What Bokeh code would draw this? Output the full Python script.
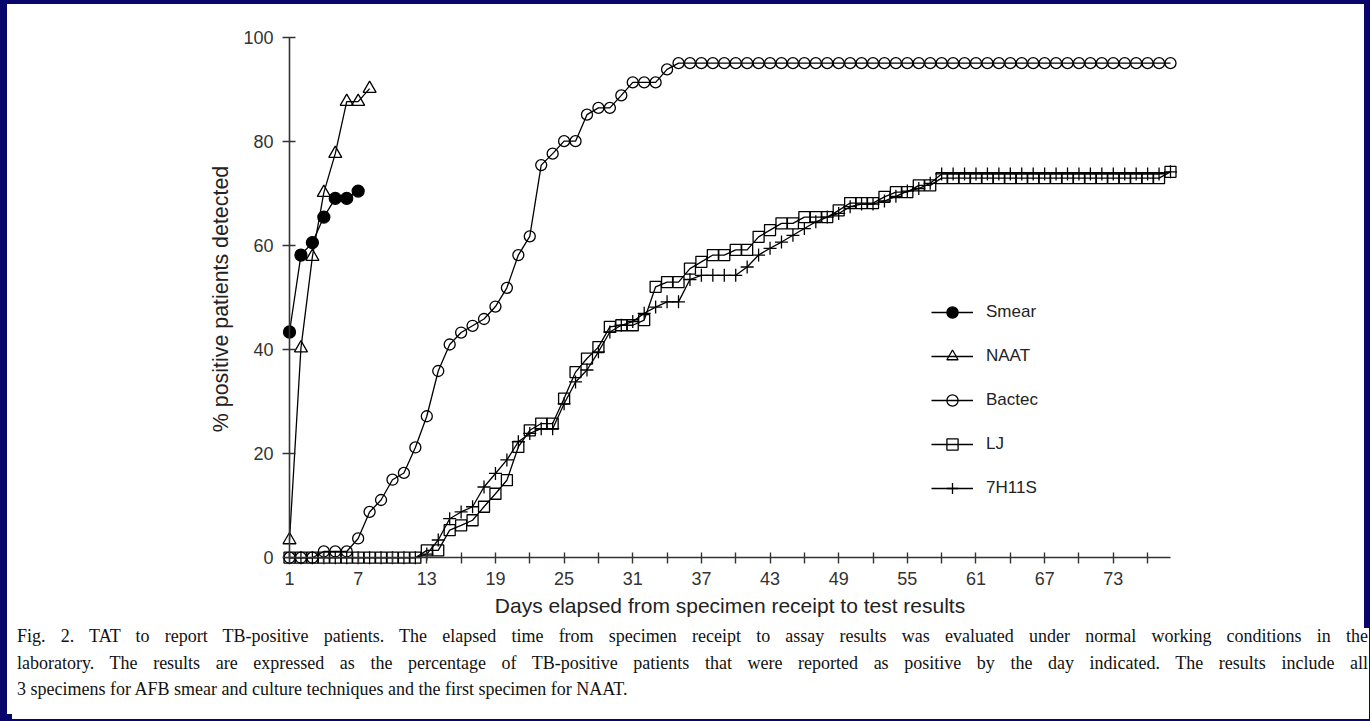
from bokeh.plotting import figure
from bokeh.models import (Range1d, FixedTicker, Legend, LegendItem, Div,
                          GlobalInlineStyleSheet, LinearAxis)
from bokeh.layouts import column
from bokeh.embed import file_html
from bokeh.resources import INLINE

# ---------------- data ----------------
smear_days = [1, 2, 3, 4, 5, 6, 7]
smear = [43.4, 58.2, 60.6, 65.5, 69.1, 69.1, 70.5]

naat_days = [1, 2, 3, 4, 5, 6, 7, 8]
naat = [3.4, 40.3, 57.9, 70.2, 77.7, 87.7, 87.7, 90.2]

culture_days = [1, 2, 3, 4, 5, 6, 7, 8, 9, 10,
                11, 12, 13, 14, 15, 16, 17, 18, 19, 20,
                21, 22, 23, 24, 25, 26, 27, 28, 29, 30,
                31, 32, 33, 34, 35, 36, 37, 38, 39, 40,
                41, 42, 43, 44, 45, 46, 47, 48, 49, 50,
                51, 52, 53, 54, 55, 56, 57, 58, 59, 60,
                61, 62, 63, 64, 65, 66, 67, 68, 69, 70,
                71, 72, 73, 74, 75, 76, 77, 78]

bactec = [0, 0, 0, 1.2, 1.2, 1.2, 3.7, 8.8, 11.1, 15.0,
          16.3, 21.2, 27.2, 35.9, 41.0, 43.3, 44.6, 45.9, 48.3, 51.9,
          58.2, 61.8, 75.5, 77.7, 80.1, 80.1, 85.2, 86.5, 86.5, 88.9,
          91.4, 91.4, 91.4, 93.9, 95.1, 95.1, 95.1, 95.1, 95.1, 95.1,
          95.1, 95.1, 95.1, 95.1, 95.1, 95.1, 95.1, 95.1, 95.1, 95.1,
          95.1, 95.1, 95.1, 95.1, 95.1, 95.1, 95.1, 95.1, 95.1, 95.1,
          95.1, 95.1, 95.1, 95.1, 95.1, 95.1, 95.1, 95.1, 95.1, 95.1,
          95.1, 95.1, 95.1, 95.1, 95.1, 95.1, 95.1, 95.1]

lj = [0, 0, 0, 0, 0, 0, 0, 0, 0, 0,
      0, 0, 1.4, 1.4, 5.3, 6.2, 7.2, 9.8, 12.3, 14.9,
      21.3, 24.5, 25.8, 25.8, 30.6, 35.7, 38.3, 40.5, 44.4, 44.7,
      44.7, 45.7, 52.1, 53.0, 53.0, 55.6, 56.9, 58.2, 58.2, 59.2,
      59.2, 61.7, 63.0, 64.3, 64.3, 65.5, 65.5, 65.5, 66.8, 68.2,
      68.2, 68.2, 69.4, 70.3, 70.3, 71.6, 71.6, 73.0, 73.0, 73.0,
      73.0, 73.0, 73.0, 73.0, 73.0, 73.0, 73.0, 73.0, 73.0, 73.0,
      73.0, 73.0, 73.0, 73.0, 73.0, 73.0, 73.0, 74.2]

h11s = [0, 0, 0, 0, 0, 0, 0, 0, 0, 0,
        0, 0, 0.7, 3.4, 7.5, 8.8, 9.8, 13.6, 16.2, 18.8,
        22.3, 23.9, 24.8, 24.8, 29.6, 33.8, 36.1, 39.6, 43.4, 44.7,
        45.4, 47.0, 48.2, 49.2, 49.2, 53.5, 54.3, 54.3, 54.3, 54.3,
        55.9, 58.2, 59.5, 60.7, 62.0, 63.3, 64.6, 65.5, 66.2, 67.5,
        68.0, 68.0, 68.6, 69.5, 70.5, 71.0, 72.0, 73.8, 73.8, 73.8,
        73.8, 73.8, 73.8, 73.8, 73.8, 73.8, 73.8, 73.8, 73.8, 73.8,
        73.8, 73.8, 73.8, 73.8, 73.8, 73.8, 73.8, 74.2]

x_major_ticks = [1, 7, 13, 19, 25, 31, 37, 43, 49, 55, 61, 67, 73]
x_minor_ticks = [4, 10, 16, 22, 28, 34, 40, 46, 52, 58, 64, 70, 76]
y_ticks = [0, 20, 40, 60, 80, 100]

series_names = ["Smear", "NAAT", "Bactec", "LJ", "7H11S"]

x_title = "Days elapsed from specimen receipt to test results"
y_title = "% positive patients detected"

caption_lines = [
    "Fig. 2. TAT to report TB-positive patients. The elapsed time from specimen receipt to assay results was evaluated under normal working conditions in the",
    "laboratory. The results are expressed as the percentage of TB-positive patients that were reported as positive by the day indicated. The results include all",
    "3 specimens for AFB smear and culture techniques and the first specimen for NAAT.",
]

# ---------------- figure ----------------
FONT = "Liberation Sans"
AX = "#333333"

p = figure(width=1357, height=619,
           x_range=Range1d(0.3, 78.7), y_range=Range1d(-1.5, 101),
           output_backend="svg", toolbar_location=None,
           min_border_left=274, min_border_right=186,
           min_border_top=28, min_border_bottom=58,
           background_fill_color="white", border_fill_color="white")
p.outline_line_color = None
p.outline_line_alpha = 0
p.grid.visible = False

# label axes (in the side panels): labels and titles only
xa = p.xaxis[0]
xa.ticker = FixedTicker(ticks=x_major_ticks, minor_ticks=[])
xa.axis_line_color = None
xa.major_tick_line_color = None
xa.minor_tick_line_color = None
xa.major_tick_in = 0
xa.major_tick_out = 0
xa.major_label_text_font = FONT
xa.major_label_text_font_size = "18px"
xa.major_label_text_color = AX
xa.major_label_standoff = 6
xa.axis_label = x_title
xa.axis_label_text_font = FONT
xa.axis_label_text_font_size = "21px"
xa.axis_label_text_font_style = "normal"
xa.axis_label_text_color = "#222222"
xa.axis_label_standoff = 6

ya = p.yaxis[0]
ya.ticker = FixedTicker(ticks=y_ticks, minor_ticks=[])
ya.axis_line_color = None
ya.major_tick_line_color = None
ya.minor_tick_line_color = None
ya.major_tick_in = 0
ya.major_tick_out = 0
ya.major_label_text_font = FONT
ya.major_label_text_font_size = "18px"
ya.major_label_text_color = AX
ya.major_label_standoff = 8
ya.axis_label = y_title
ya.axis_label_text_font = FONT
ya.axis_label_text_font_size = "21.4px"
ya.axis_label_text_font_style = "normal"
ya.axis_label_text_color = "#222222"
ya.axis_label_standoff = 7

# axis lines and tick marks, crossing at day 1 / 0 %
xline = LinearAxis(fixed_location=0, bounds=(1, 78),
                   ticker=FixedTicker(ticks=x_major_ticks, minor_ticks=x_minor_ticks),
                   major_tick_in=5, major_tick_out=6,
                   minor_tick_in=5, minor_tick_out=6,
                   axis_line_color=AX, axis_line_width=1.6,
                   major_tick_line_color=AX, minor_tick_line_color=AX,
                   major_tick_line_width=1.4, minor_tick_line_width=1.4,
                   major_label_text_color=None)
p.add_layout(xline, "below")

yline = LinearAxis(fixed_location=1, bounds=(0, 100),
                   ticker=FixedTicker(ticks=y_ticks, minor_ticks=[]),
                   major_tick_in=6, major_tick_out=7,
                   axis_line_color=AX, axis_line_width=1.6,
                   major_tick_line_color=AX, major_tick_line_width=1.4,
                   minor_tick_line_color=None,
                   major_label_text_color=None)
p.add_layout(yline, "left")

LW = 1.3


def series(xs, ys, marker, size, filled):
    ln = p.line(xs, ys, line_color="black", line_width=LW)
    sc = p.scatter(xs, ys, marker=marker, size=size, line_color="black",
                   line_width=LW, fill_color="black" if filled else None)
    return [ln, sc]


r_smear = series(smear_days, smear, "circle", 12, True)
r_naat = series(naat_days, naat, "triangle", 13, False)
r_bactec = series(culture_days, bactec, "circle", 11, False)
r_lj = series(culture_days, lj, "square", 11, False)
r_h11s = series(culture_days, h11s, "cross", 13, False)

legend = Legend(
    items=[LegendItem(label=n, renderers=r) for n, r in
           zip(series_names, [r_smear, r_naat, r_bactec, r_lj, r_h11s])],
    location=(650, 63), orientation="vertical",
    glyph_width=42, glyph_height=28, spacing=16, label_standoff=13,
    padding=0, margin=0, border_line_color=None, background_fill_alpha=0,
    label_text_font=FONT, label_text_font_size="17px",
    label_text_color="#222222")
p.add_layout(legend)

# ---------------- caption ----------------
line_style = "text-align:justify;text-align-last:justify;"
inner = "".join(
    f'<div style="{line_style}">{t}</div>' for t in caption_lines[:2]
) + f'<div>{caption_lines[2]}</div>'
cap = Div(
    text=(f'<div style="box-sizing:border-box;width:1357px;position:relative;top:-5px;'
          f'font-family:\'Liberation Serif\',serif;font-size:18px;'
          f'line-height:26.5px;color:#111;padding:0 1px 0 5px;">{inner}</div>'),
    width=1357, height=91, styles={"background-color": "white"})

css = GlobalInlineStyleSheet(css=(
    "html, body { background-color: #07076b !important; margin: 0 !important; }"
    " body { padding: 4px 0 0 7px !important; box-sizing: border-box; }"))

layout = column(p, cap, spacing=0, width=1357, height=710,
                styles={"background-color": "white"}, stylesheets=[css])

open("out.html", "w").write(file_html(layout, INLINE))
